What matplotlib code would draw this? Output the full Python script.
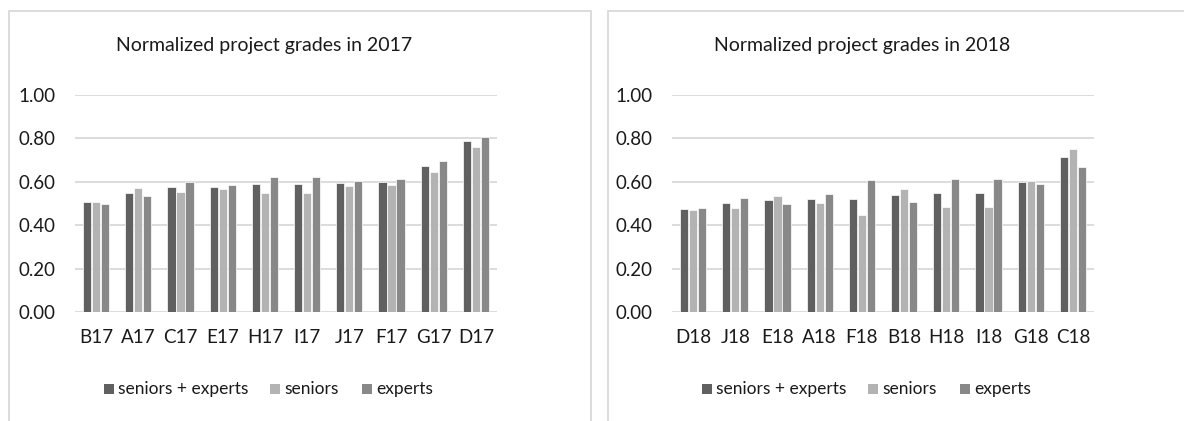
import numpy as np
import matplotlib
matplotlib.use("Agg")
import matplotlib.pyplot as plt
from matplotlib.patches import Rectangle

plt.rcParams['font.family'] = ['Lato', 'DejaVu Sans']

# data
series = ["seniors + experts", "seniors", "experts"]
colors = ["#606060", "#b3b3b3", "#888888"]

teams_2017 = ["B17", "A17", "C17", "E17", "H17", "I17", "J17", "F17", "G17", "D17"]
both_2017 = [0.505, 0.550, 0.577, 0.577, 0.590, 0.590, 0.595, 0.601, 0.673, 0.786]
seniors_2017 = [0.507, 0.571, 0.552, 0.566, 0.549, 0.549, 0.581, 0.586, 0.645, 0.760]
experts_2017 = [0.500, 0.534, 0.598, 0.586, 0.622, 0.622, 0.605, 0.612, 0.696, 0.806]

teams_2018 = ["D18", "J18", "E18", "A18", "F18", "B18", "H18", "I18", "G18", "C18"]
both_2018 = [0.474, 0.502, 0.517, 0.522, 0.522, 0.540, 0.548, 0.548, 0.598, 0.713]
seniors_2018 = [0.471, 0.480, 0.534, 0.503, 0.447, 0.569, 0.486, 0.486, 0.603, 0.751]
experts_2018 = [0.479, 0.525, 0.497, 0.543, 0.607, 0.506, 0.615, 0.615, 0.592, 0.668]

W, H = 1184, 421
fig = plt.figure(figsize=(W / 100, H / 100), dpi=100)

# chart area borders
fig.patches.append(Rectangle((8.5 / W, -0.1), (591 - 8.5) / W, 1.1 - 10.5 / H,
                             transform=fig.transFigure, fill=False,
                             edgecolor="#d9d9d9", linewidth=1.3))
fig.patches.append(Rectangle((607.7 / W, -0.1), 0.6, 1.1 - 10.5 / H,
                             transform=fig.transFigure, fill=False,
                             edgecolor="#d9d9d9", linewidth=1.3))

# legend entries: square left edge (px) per series, relative to panel
legend_x = [104, 270, 362]


def panel(left_px, teams, vals, title, title_x, shift):
    ax = fig.add_axes([left_px / W, (H - 312) / H, 422 / W, 217 / H])
    x = np.arange(len(teams))
    w = 0.195
    for i, (v, c) in enumerate(zip(vals, colors)):
        ax.bar(x + (i - 1) * 0.215, v, width=w, color=c, edgecolor="white",
               linewidth=0.5, zorder=3)
    ax.set_xlim(-0.5, len(teams) - 0.5)
    ax.set_ylim(0, 1.0)
    ax.set_yticks(np.arange(0, 1.01, 0.2))
    ax.set_yticklabels([f"{t:.2f}" for t in np.arange(0, 1.01, 0.2)])
    ax.set_xticks(x)
    ax.set_xticklabels(teams)
    ax.grid(axis="y", color="#d9d9d9", linewidth=1.3, zorder=0)
    for s in ax.spines.values():
        s.set_visible(False)
    ax.tick_params(axis="both", length=0, labelsize=13.5, colors="#1a1a1a")
    ax.tick_params(axis="y", pad=14)
    ax.tick_params(axis="x", pad=12)
    fig.text(title_x / W, 1 - 45 / H, title, ha="center", va="center",
             fontsize=14, color="#1a1a1a")
    # legend drawn by hand so the labels share a baseline
    for lx, name, c in zip(legend_x, series, colors):
        fig.patches.append(Rectangle(((lx + shift) / W, 1 - 394 / H), 10 / W, 10 / H,
                                     transform=fig.transFigure, facecolor=c,
                                     edgecolor="none"))
        fig.text((lx + shift + 14) / W, 1 - 394 / H, name, ha="left",
                 va="baseline", fontsize=12.5, color="#1a1a1a")
    return ax


panel(75, teams_2017, [both_2017, seniors_2017, experts_2017],
      "Normalized project grades in 2017", 264.5, 0)
panel(672, teams_2018, [both_2018, seniors_2018, experts_2018],
      "Normalized project grades in 2018", 862.5, 598)

fig.savefig("out.png", dpi=100)
